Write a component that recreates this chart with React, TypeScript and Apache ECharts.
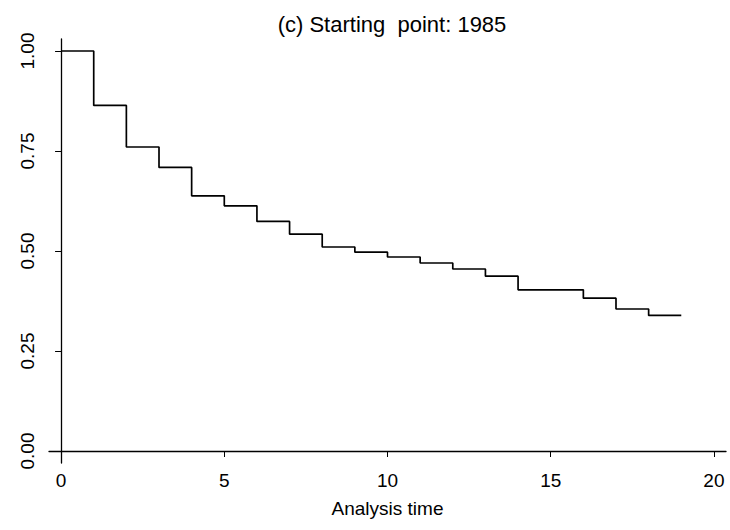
import React, { useEffect, useRef } from "react";
import * as echarts from "echarts";

const times = [0, 1, 2, 3, 4, 5, 6, 7, 8, 9, 10, 11, 12, 13, 14, 15, 16, 17, 18, 19];
const survival = [1.0, 0.864, 0.76, 0.709, 0.638, 0.613, 0.574, 0.542, 0.51, 0.497, 0.485, 0.47, 0.455, 0.437, 0.403, 0.403, 0.382, 0.355, 0.339, 0.339];
const yTicks = [0, 0.25, 0.5, 0.75, 1.0];
const xTicks = [0, 5, 10, 15, 20];
const titleText = "(c) Starting  point: 1985";
const xAxisTitle = "Analysis time";

const FONT = "'Liberation Sans', Arial, Helvetica, sans-serif";

export default function App() {
  const ref = useRef<HTMLDivElement>(null);
  useEffect(() => {
    const chart = echarts.init(ref.current!, null, { renderer: "svg" });
    chart.setOption({
      animation: false,
      backgroundColor: "#ffffff",
      title: {
        text: titleText,
        left: 387,
        textAlign: "center",
        top: 8,
        textStyle: { fontFamily: FONT, fontSize: 22, fontWeight: "normal", color: "#000" },
      },
      grid: { left: 49, right: 4, top: 39, bottom: 67, containLabel: false },
      xAxis: {
        type: "value",
        min: -0.37,
        max: 20.37,
        name: xAxisTitle,
        nameLocation: "middle",
        nameGap: 36,
        nameTextStyle: { fontFamily: FONT, fontSize: 19, color: "#000" },
        axisLine: { show: true, lineStyle: { color: "#000", width: 1.3 } },
        axisTick: { show: true, customValues: xTicks, length: 6, lineStyle: { color: "#000", width: 1 } },
        axisLabel: {
          customValues: xTicks,
          formatter: (v: number) => String(v),
          fontFamily: FONT,
          fontSize: 19,
          color: "#000",
          margin: 8,
        },
        splitLine: { show: false },
      },
      yAxis: {
        type: "value",
        min: -0.03,
        max: 1.03,
        axisLine: { show: true, lineStyle: { color: "#000", width: 1.3 } },
        axisTick: { show: true, customValues: yTicks, length: 6, lineStyle: { color: "#000", width: 1 } },
        axisLabel: {
          customValues: yTicks,
          formatter: (v: number) => v.toFixed(2),
          rotate: 90,
          fontFamily: FONT,
          fontSize: 19,
          color: "#000",
          margin: 12,
        },
        splitLine: { show: false },
      },
      series: [
        {
          type: "line",
          step: "end",
          data: times.map((t, i) => [t, survival[i]]),
          showSymbol: false,
          lineStyle: { color: "#000", width: 1.7 },
        },
      ],
    });
    return () => chart.dispose();
  }, []);
  return <div ref={ref} style={{ position: "fixed", left: 0, top: 0, width: 730, height: 530 }} />;
}
